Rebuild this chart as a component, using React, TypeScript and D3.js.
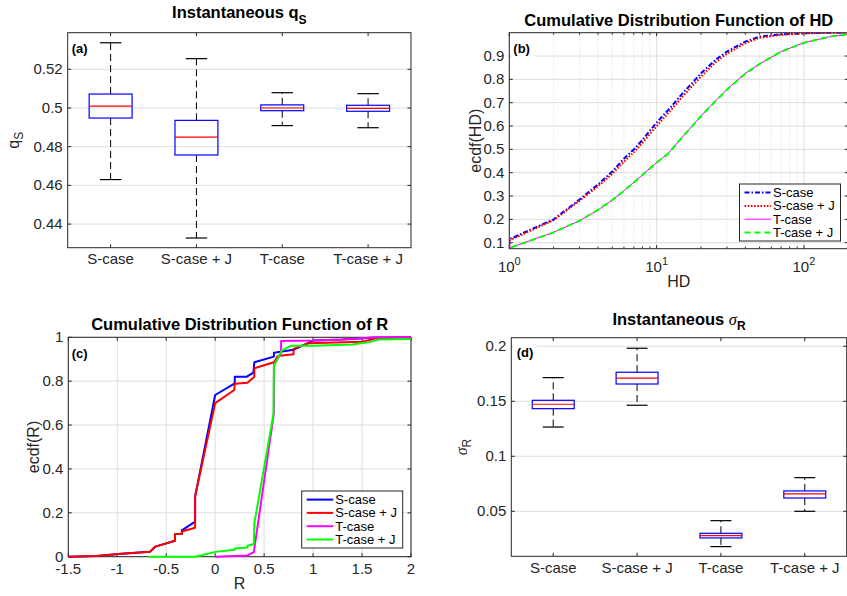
import React, { useEffect, useRef } from 'react';
import * as d3 from 'd3';

const W = 847;
const H = 596;
const FONT = '"Liberation Sans", Arial, Helvetica, sans-serif';
const AX = '#262626';
const GRID = '#dedede';

// categories for the box plots
const caseLabels = ['S-case', 'S-case + J', 'T-case', 'T-case + J'];

// box stats: [lower whisker, q1, median, q3, upper whisker]
const qsStats = [
  [0.463, 0.4948, 0.501, 0.5072, 0.5337],
  [0.4328, 0.4757, 0.4849, 0.4936, 0.5255],
  [0.4909, 0.4986, 0.5, 0.5016, 0.5079],
  [0.4898, 0.4983, 0.4998, 0.5014, 0.5074],
];
const qsTicks = [0.44, 0.46, 0.48, 0.5, 0.52];

const sigmaStats = [
  [0.1266, 0.1433, 0.1473, 0.1509, 0.1715],
  [0.1464, 0.1657, 0.171, 0.1764, 0.1982],
  [0.0179, 0.0258, 0.0279, 0.03, 0.0415],
  [0.05, 0.0621, 0.0658, 0.0685, 0.0806],
];
const sigmaTicks = [0.05, 0.1, 0.15, 0.2];

// ecdf of HD
const hdValues = [1, 2, 3, 4, 5, 6, 7, 8, 9, 10, 12, 15, 20, 25, 30, 40, 50, 70, 100, 150, 200];
const hdSCase = [0.115, 0.2, 0.285, 0.35, 0.405, 0.46, 0.5, 0.54, 0.58, 0.615, 0.669, 0.74, 0.826, 0.883, 0.919, 0.962, 0.983, 0.993, 0.998, 0.9995, 1.0];
const hdSCaseJ = [0.11, 0.197, 0.28, 0.342, 0.395, 0.447, 0.487, 0.527, 0.565, 0.6, 0.655, 0.726, 0.812, 0.872, 0.91, 0.955, 0.978, 0.991, 0.997, 0.999, 1.0];
const hdTCase = [0.078, 0.1445, 0.194, 0.24, 0.283, 0.323, 0.359, 0.39, 0.419, 0.443, 0.483, 0.554, 0.643, 0.707, 0.757, 0.826, 0.866, 0.919, 0.957, 0.983, 0.993];
const hdTCaseJ = [0.077, 0.144, 0.195, 0.241, 0.283, 0.322, 0.358, 0.39, 0.418, 0.443, 0.482, 0.553, 0.642, 0.706, 0.756, 0.825, 0.866, 0.919, 0.957, 0.983, 0.993];
const hdYTicks = [0.1, 0.2, 0.3, 0.4, 0.5, 0.6, 0.7, 0.8, 0.9];

// ecdf of R: [R, F]
const rSCase = [[-1.5, 0], [-1.21, 0.003], [-0.99, 0.012], [-0.666, 0.023], [-0.61, 0.046], [-0.41, 0.073], [-0.41, 0.1035], [-0.34, 0.1035], [-0.34, 0.12], [-0.205, 0.16], [-0.205, 0.274], [0, 0.737], [0.2, 0.79], [0.2, 0.82], [0.32, 0.82], [0.39, 0.839], [0.4, 0.886], [0.6, 0.912], [0.6, 0.93], [0.8, 0.943], [1.0, 0.985], [1.3, 0.99], [1.6, 0.998], [2, 1]];
const rSCaseJ = [[-1.5, 0], [-1.21, 0.003], [-0.99, 0.012], [-0.666, 0.023], [-0.61, 0.046], [-0.41, 0.073], [-0.41, 0.1035], [-0.34, 0.1035], [-0.34, 0.115], [-0.205, 0.132], [-0.205, 0.274], [0, 0.7], [0.195, 0.76], [0.2, 0.788], [0.33, 0.793], [0.4, 0.82], [0.4, 0.859], [0.6, 0.886], [0.64, 0.915], [0.8, 0.923], [0.8, 0.947], [0.95, 0.973], [1.5, 0.98], [1.65, 0.995], [2, 1]];
const rTCase = [[0, 0], [0.33, 0.006], [0.395, 0.021], [0.6, 0.654], [0.6, 0.874], [0.673, 0.927], [0.673, 0.983], [1.0, 0.985], [1.3, 0.99], [1.65, 1.0], [2, 1]];
const rTCaseJ = [[-0.68, 0], [-0.2, 0], [0, 0.022], [0.2, 0.032], [0.2, 0.037], [0.33, 0.042], [0.33, 0.05], [0.395, 0.058], [0.4, 0.152], [0.595, 0.65], [0.6, 0.87], [0.64, 0.905], [0.68, 0.94], [0.78, 0.962], [1.0, 0.962], [1.4, 0.967], [1.57, 0.978], [1.67, 0.99], [2, 0.992]];
const rXTicks = [-1.5, -1, -0.5, 0, 0.5, 1, 1.5, 2];
const rYTicks = [0, 0.2, 0.4, 0.6, 0.8, 1];

type Rect = { left: number; right: number; top: number; bottom: number };

const rectA: Rect = { left: 67.7, right: 411, top: 32.7, bottom: 247.7 };
const rectB: Rect = { left: 509.3, right: 848.3, top: 32.7, bottom: 248.7 };
const rectC: Rect = { left: 68.3, right: 411, top: 337.3, bottom: 556.7 };
const rectD: Rect = { left: 511.3, right: 846.7, top: 337.7, bottom: 556.3 };

const TICK = 3.5;

function frame(g: any, r: Rect) {
  g.append('rect')
    .attr('x', r.left).attr('y', r.top)
    .attr('width', r.right - r.left).attr('height', r.bottom - r.top)
    .attr('fill', 'none').attr('stroke', AX).attr('stroke-width', 1);
}

function yAxis(g: any, y: any, r: Rect, ticks: number[], fmt: (v: number) => string, grid: boolean) {
  if (grid) {
    g.selectAll(null).data(ticks).enter().append('line')
      .attr('x1', r.left).attr('x2', r.right)
      .attr('y1', (d: number) => y(d)).attr('y2', (d: number) => y(d))
      .attr('stroke', GRID).attr('stroke-width', 1);
  }
  ticks.forEach((t) => {
    g.append('line').attr('x1', r.left).attr('x2', r.left + TICK).attr('y1', y(t)).attr('y2', y(t)).attr('stroke', AX);
    g.append('line').attr('x1', r.right).attr('x2', r.right - TICK).attr('y1', y(t)).attr('y2', y(t)).attr('stroke', AX);
    g.append('text').attr('x', r.left - 5).attr('y', y(t)).attr('dy', '0.34em')
      .attr('text-anchor', 'end').attr('font-size', 15).attr('fill', AX).text(fmt(t));
  });
}

function xTicksMarks(g: any, pos: number[], r: Rect, len = TICK) {
  pos.forEach((p) => {
    g.append('line').attr('x1', p).attr('x2', p).attr('y1', r.bottom).attr('y2', r.bottom - len).attr('stroke', AX);
    g.append('line').attr('x1', p).attr('x2', p).attr('y1', r.top).attr('y2', r.top + len).attr('stroke', AX);
  });
}

function panelLabel(g: any, r: Rect, label: string, dx: number, dy: number) {
  g.append('rect').attr('x', r.left + 1).attr('y', r.top + dy - 13)
    .attr('width', 24).attr('height', 18).attr('fill', '#fff');
  g.append('text').attr('x', r.left + dx).attr('y', r.top + dy)
    .attr('font-size', 13).attr('font-weight', 'bold').attr('fill', '#000').text(label);
}

function drawBoxPanel(svg: any, r: Rect, stats: number[][], domain: [number, number], ticks: number[]) {
  const g = svg.append('g');
  const x = d3.scaleLinear().domain([0.5, 4.5]).range([r.left, r.right]);
  const y = d3.scaleLinear().domain(domain).range([r.bottom, r.top]);

  g.append('rect').attr('x', r.left).attr('y', r.top)
    .attr('width', r.right - r.left).attr('height', r.bottom - r.top).attr('fill', '#fff');
  yAxis(g, y, r, ticks, (v) => String(+v.toFixed(3)), true);
  xTicksMarks(g, caseLabels.map((_, i) => x(i + 1)), r);
  frame(g, r);

  caseLabels.forEach((lab, i) => {
    g.append('text').attr('x', x(i + 1)).attr('y', r.bottom + 16.5)
      .attr('text-anchor', 'middle').attr('font-size', 15).attr('fill', AX).text(lab);
  });

  stats.forEach((s, i) => {
    const c = i + 1;
    const [lo, q1, med, q3, hi] = s;
    // whiskers
    [[q3, hi], [q1, lo]].forEach(([a, b]) => {
      g.append('line').attr('x1', x(c)).attr('x2', x(c)).attr('y1', y(a)).attr('y2', y(b))
        .attr('stroke', '#000').attr('stroke-width', 1).attr('stroke-dasharray', '7,4');
    });
    // caps
    [hi, lo].forEach((v) => {
      g.append('line').attr('x1', x(c - 0.125)).attr('x2', x(c + 0.125)).attr('y1', y(v)).attr('y2', y(v))
        .attr('stroke', '#000').attr('stroke-width', 1.2);
    });
    // box
    g.append('rect').attr('x', x(c - 0.25)).attr('y', y(q3))
      .attr('width', x(c + 0.25) - x(c - 0.25)).attr('height', y(q1) - y(q3))
      .attr('fill', 'none').attr('stroke', '#0000ff').attr('stroke-width', 1.2);
    // median
    g.append('line').attr('x1', x(c - 0.25)).attr('x2', x(c + 0.25)).attr('y1', y(med)).attr('y2', y(med))
      .attr('stroke', '#ff0000').attr('stroke-width', 1.2);
  });
  return g;
}

function legend(g: any, left: number, top: number, items: any[]) {
  g.append('rect').attr('x', left).attr('y', top).attr('width', 101).attr('height', 57)
    .attr('fill', '#fff').attr('stroke', AX).attr('stroke-width', 1);
  items.forEach((it, i) => {
    const cy = top + 8.6 + i * 13.3;
    g.append('line').attr('x1', left + 5).attr('x2', left + 31.5).attr('y1', cy).attr('y2', cy)
      .attr('stroke', it.color).attr('stroke-width', it.width)
      .attr('stroke-dasharray', it.dash || null);
    g.append('text').attr('x', left + 33.5).attr('y', cy + 4.5)
      .attr('font-size', 13).attr('fill', '#000').text(it.name);
  });
}

export default function App() {
  const ref = useRef<SVGSVGElement>(null);

  useEffect(() => {
    const svg = d3.select(ref.current);
    svg.selectAll('*').remove();
    svg.append('rect').attr('width', W).attr('height', H).attr('fill', '#fff');

    // ---------- (a) ----------
    const ga = drawBoxPanel(svg, rectA, qsStats, [0.4278, 0.5389], qsTicks);
    panelLabel(ga, rectA, '(a)', 4, 20);
    const ta = ga.append('text').attr('x', (rectA.left + rectA.right) / 2).attr('y', 18.3)
      .attr('text-anchor', 'middle').attr('font-size', 16.5).attr('font-weight', 'bold').attr('fill', '#000');
    ta.append('tspan').text('Instantaneous q');
    ta.append('tspan').attr('dy', 5.5).attr('font-size', 12).text('S');
    const la = ga.append('text').attr('transform', `translate(18.5,${(rectA.top + rectA.bottom) / 2}) rotate(-90)`)
      .attr('text-anchor', 'middle').attr('font-size', 16).attr('fill', AX);
    la.append('tspan').text('q');
    la.append('tspan').attr('dy', 4.5).attr('font-size', 12).text('S');

    // ---------- (d) ----------
    const gd = drawBoxPanel(svg, rectD, sigmaStats, [0.0091, 0.2078], sigmaTicks);
    panelLabel(gd, rectD, '(d)', 5.4, 19);
    const td = gd.append('text').attr('x', (rectD.left + rectD.right) / 2).attr('y', 325)
      .attr('text-anchor', 'middle').attr('font-size', 16.5).attr('fill', '#000');
    td.append('tspan').attr('font-weight', 'bold').text('Instantaneous ');
    td.append('tspan').attr('font-family', '"Liberation Serif", "DejaVu Serif", serif').attr('font-style', 'italic').text('σ');
    td.append('tspan').attr('dy', 5).attr('font-size', 12).attr('font-weight', 'bold').text('R');
    const ld = gd.append('text').attr('transform', `translate(466.7,${(rectD.top + rectD.bottom) / 2}) rotate(-90)`)
      .attr('text-anchor', 'middle').attr('font-size', 16).attr('fill', AX);
    ld.append('tspan').attr('font-family', '"Liberation Serif", "DejaVu Serif", serif').attr('font-style', 'italic').text('σ');
    ld.append('tspan').attr('dy', 4.5).attr('font-size', 12).text('R');

    // ---------- (b) ----------
    const gb = svg.append('g');
    const rb = rectB;
    const xb = d3.scaleLog().domain([1, 200]).range([rb.left, rb.right]);
    const yb = d3.scaleLinear().domain([0.0743, 1]).range([rb.bottom, rb.top]);
    const minor: number[] = [];
    [1, 10, 100].forEach((dec) => {
      for (let k = 2; k <= 9; k++) if (dec * k <= 200) minor.push(dec * k);
    });
    const major = [1, 10, 100];
    gb.selectAll(null).data(minor).enter().append('line')
      .attr('x1', (d: number) => xb(d)).attr('x2', (d: number) => xb(d))
      .attr('y1', rb.top).attr('y2', rb.bottom)
      .attr('stroke', '#cfcfcf').attr('stroke-width', 0.8).attr('stroke-dasharray', '1,2');
    gb.selectAll(null).data(major).enter().append('line')
      .attr('x1', (d: number) => xb(d)).attr('x2', (d: number) => xb(d))
      .attr('y1', rb.top).attr('y2', rb.bottom)
      .attr('stroke', GRID).attr('stroke-width', 1);
    yAxis(gb, yb, rb, hdYTicks, (v) => String(+v.toFixed(1)), true);
    xTicksMarks(gb, major.map((d) => xb(d)), rb);
    xTicksMarks(gb, minor.map((d) => xb(d)), rb, 2);
    frame(gb, rb);
    major.forEach((d, i) => {
      const t = gb.append('text').attr('x', xb(d)).attr('y', 271.7)
        .attr('text-anchor', 'middle').attr('font-size', 15).attr('fill', AX);
      t.append('tspan').text('10');
      t.append('tspan').attr('dy', -7).attr('font-size', 11).text(String(i));
    });
    gb.append('text').attr('x', (rb.left + rb.right) / 2).attr('y', 287)
      .attr('text-anchor', 'middle').attr('font-size', 16).attr('fill', AX).text('HD');
    gb.append('text').attr('transform', `translate(480.5,${(rb.top + rb.bottom) / 2}) rotate(-90)`)
      .attr('text-anchor', 'middle').attr('font-size', 16).attr('fill', AX).text('ecdf(HD)');
    gb.append('text').attr('x', (rb.left + rb.right) / 2).attr('y', 26)
      .attr('text-anchor', 'middle').attr('font-size', 16.5).attr('font-weight', 'bold').attr('fill', '#000')
      .text('Cumulative Distribution Function of HD');

    const clipB = gb.append('clipPath').attr('id', 'clipB');
    clipB.append('rect').attr('x', rb.left).attr('y', rb.top).attr('width', rb.right - rb.left).attr('height', rb.bottom - rb.top);
    const hdSeries = [
      { name: 'S-case', values: hdSCase, color: '#0000ff', width: 2, dash: '5,2,1.5,2' },
      { name: 'S-case + J', values: hdSCaseJ, color: '#ff0000', width: 2, dash: '1.6,1.6' },
      { name: 'T-case', values: hdTCase, color: '#ff00ff', width: 1, dash: null },
      { name: 'T-case + J', values: hdTCaseJ, color: '#00ff00', width: 2, dash: '6,4' },
    ];
    const lineB = d3.line<number[]>().x((d) => xb(d[0])).y((d) => yb(d[1]));
    const gbl = gb.append('g').attr('clip-path', 'url(#clipB)');
    hdSeries.forEach((s) => {
      const pts = [[1, 0], ...hdValues.map((v, i) => [v, s.values[i]])];
      gbl.append('path').attr('d', lineB(pts)).attr('fill', 'none')
        .attr('stroke', s.color).attr('stroke-width', s.width)
        .attr('stroke-dasharray', s.dash || null);
    });
    legend(gb, 739.5, 184, hdSeries);
    panelLabel(gb, rb, '(b)', 4, 20.3);

    // ---------- (c) ----------
    const gc = svg.append('g');
    const rc = rectC;
    const xc = d3.scaleLinear().domain([-1.5, 2]).range([rc.left, rc.right]);
    const yc = d3.scaleLinear().domain([0, 1]).range([rc.bottom, rc.top]);
    gc.selectAll(null).data(rXTicks).enter().append('line')
      .attr('x1', (d: number) => xc(d)).attr('x2', (d: number) => xc(d))
      .attr('y1', rc.top).attr('y2', rc.bottom)
      .attr('stroke', GRID).attr('stroke-width', 1);
    yAxis(gc, yc, rc, rYTicks, (v) => String(+v.toFixed(1)), true);
    xTicksMarks(gc, rXTicks.map((d) => xc(d)), rc);
    frame(gc, rc);
    rXTicks.forEach((d) => {
      gc.append('text').attr('x', xc(d)).attr('y', 574)
        .attr('text-anchor', 'middle').attr('font-size', 15).attr('fill', AX).text(String(d));
    });
    gc.append('text').attr('x', (rc.left + rc.right) / 2).attr('y', 588.5)
      .attr('text-anchor', 'middle').attr('font-size', 16).attr('fill', AX).text('R');
    gc.append('text').attr('transform', `translate(39.3,${(rc.top + rc.bottom) / 2}) rotate(-90)`)
      .attr('text-anchor', 'middle').attr('font-size', 16).attr('fill', AX).text('ecdf(R)');
    gc.append('text').attr('x', (rc.left + rc.right) / 2).attr('y', 329.5)
      .attr('text-anchor', 'middle').attr('font-size', 16.5).attr('font-weight', 'bold').attr('fill', '#000')
      .text('Cumulative Distribution Function of R');

    const rSeries = [
      { name: 'S-case', values: rSCase, color: '#0000ff', width: 2, dash: null },
      { name: 'S-case + J', values: rSCaseJ, color: '#ff0000', width: 2, dash: null },
      { name: 'T-case', values: rTCase, color: '#ff00ff', width: 2, dash: null },
      { name: 'T-case + J', values: rTCaseJ, color: '#00ff00', width: 2, dash: null },
    ];
    const lineC = d3.line<number[]>().x((d) => xc(d[0])).y((d) => yc(d[1]));
    rSeries.forEach((s) => {
      gc.append('path').attr('d', lineC(s.values)).attr('fill', 'none')
        .attr('stroke', s.color).attr('stroke-width', s.width).attr('stroke-linejoin', 'round');
    });
    legend(gc, 301.7, 491, rSeries);
    panelLabel(gc, rc, '(c)', 3.4, 21);
  }, []);

  return (
    <svg
      ref={ref}
      width={W}
      height={H}
      fontFamily={FONT}
      style={{ position: 'absolute', left: 0, top: 0, display: 'block' }}
    />
  );
}
